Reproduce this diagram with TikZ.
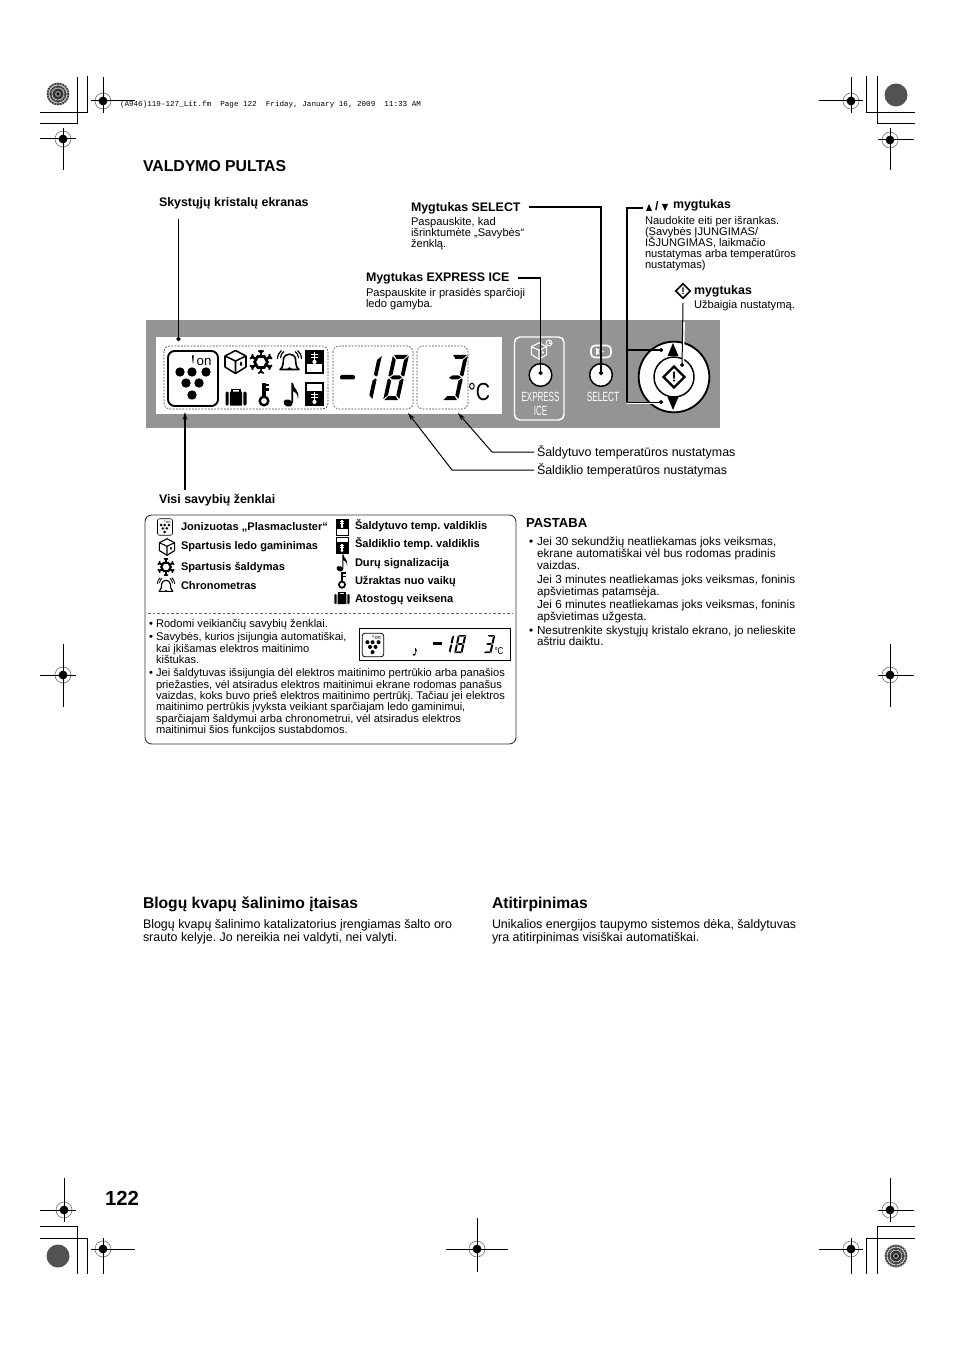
\documentclass[tikz,border=0pt]{standalone}
\usepackage{fontspec}
\setmainfont{Liberation Sans}
\newfontfamily\hdrfont{Liberation Mono}
\usetikzlibrary{arrows.meta,calc}
\newcounter{lbl}
\tikzset{
 txt/.style={anchor=base west,inner sep=0pt,outer sep=0pt,text=black,font=\frenchspacing\fontsize{8.35}{9}\selectfont},
 bd/.style={font=\frenchspacing\fontsize{9.3}{10}\bfseries\selectfont},
 tb/.style={font=\frenchspacing\fontsize{8.3}{9}\bfseries\selectfont},
 big/.style={font=\frenchspacing\fontsize{9.33}{11}\selectfont},
 nt/.style={font=\frenchspacing\fontsize{8.8}{10}\selectfont},
 wh/.style={anchor=base,text=white,font=\fontsize{10}{11}\selectfont},
 leader/.style={draw=black,line width=1pt,-{Circle[length=3pt]}},
 thinlead/.style={draw=black,line width=.75pt},
 point/.style={draw=black,line width=.75pt,-{Stealth[length=6pt,width=3.5pt]}},
 dashbox/.style={draw=black!75,line width=.5pt,dash pattern=on 1.3pt off 1.1pt,rounded corners=4pt},
}
\newcommand\T[4][]{\stepcounter{lbl}\node[txt,#1] (l\arabic{lbl}) at (#2,#3) {#4};}
% seven-segment pieces, local box 20 x 45
\newcommand\segA{\fill (1.5,0)--(18.5,0)--(14.5,4)--(5.5,4)--cycle;}
\newcommand\segD{\fill (1.5,45)--(18.5,45)--(14.5,41)--(5.5,41)--cycle;}
\newcommand\segG{\fill (2.5,22.5)--(6,20.5)--(14,20.5)--(17.5,22.5)--(14,24.5)--(6,24.5)--cycle;}
\newcommand\segF{\fill (0,1)--(4.8,5)--(4.8,19.5)--(1.5,21.5)--(0,20.5)--cycle;}
\newcommand\segB{\fill (20,1)--(15.2,5)--(15.2,19.5)--(18.5,21.5)--(20,20.5)--cycle;}
\newcommand\segE{\fill (0,24.5)--(1.5,23.5)--(4.8,25.5)--(4.8,40)--(0,44)--cycle;}
\newcommand\segC{\fill (20,24.5)--(18.5,23.5)--(15.2,25.5)--(15.2,40)--(20,44)--cycle;}
\newcommand\digEight[4]{\begin{scope}[shift={(#1,#2)},xslant=.22,xscale=#3,yscale=#4]\segA\segB\segC\segD\segE\segF\segG\end{scope}}
\newcommand\digOne[4]{\begin{scope}[shift={(#1,#2)},xslant=.22,xscale=#3,yscale=#4]\segB\segC\end{scope}}
\newcommand\digThree[4]{\begin{scope}[shift={(#1,#2)},xslant=.22,xscale=#3,yscale=#4]\segA\segB\segC\segD\segG\end{scope}}
% registration mark
\newcommand\reg[6]{%
 \draw[black!55,line width=.45pt] (#1,#2) circle (8);
 \fill[black] (#1,#2) circle (4.4);
 \draw[black,line width=.75pt] (#3,#2)--(#4,#2) (#1,#5)--(#1,#6);}
\newcommand\discR[2]{%
 \fill[black!45] (#1,#2) circle (11.5);
 \foreach \a in {0,15,...,345}{\draw[black!80,line width=.9pt] ($(#1,#2)+(\a:3)$)--($(#1,#2)+(\a:11.2)$);}
 \foreach \r in {6,9}{\draw[black!20,line width=.6pt] (#1,#2) circle (\r);}
 \fill[black] (#1,#2) circle (1.6);}
\newcommand\discS[2]{\fill[black!68] (#1,#2) circle (11.5);}
% icons
\newcommand\plasma[3]{\begin{scope}[shift={(#1,#2)},scale=#3]
 \draw[black,line width=#3*1.4pt,rounded corners=5*#3,fill=white] (-25,-27.5) rectangle (25,27.5);
 \foreach \p/\q in {-13/-6.5,-1/-6.5,13/-6.5,-7/4.5,6/4.5,-1/16.5}{\fill[black] (\p,\q) circle (4.7);}
 \fill[black] (-1,-23)--(.8,-23)--(.3,-15)--(-.3,-15)--cycle;
 \stepcounter{lbl}\node[inner sep=0pt,scale=#3,font=\fontsize{10}{10}\selectfont] (l\arabic{lbl}) at (11,-16.5) {on};
 \end{scope}}
\newcommand\cube[4][black]{\begin{scope}[shift={(#2,#3)},scale=#4,draw=#1,line width=#4*1.15pt,line join=round]
 \draw (-10.5,-6)--(0,-11.5)--(10.5,-6)--(10.5,5)--(0,11.5)--(-10.5,5)--cycle;
 \draw (-10.5,-6)--(0,-1)--(10.5,-6) (0,-1)--(0,11.5);
 \fill[#1] (5.5,-1)--(6.8,2)--(5.5,4.5)--(4.2,2)--cycle;
 \end{scope}}
\newcommand\snow[3]{\begin{scope}[shift={(#1,#2)},scale=#3]
 \foreach \a in {30,90,150,210,270,330}{
  \draw[black,line width=#3*2pt] (\a:5)--(\a:11.5);
  \draw[black,line width=#3*1.3pt] (\a:9.5)--++(\a+55:3.2) (\a:9.5)--++(\a-55:3.2);}
 \draw[black,line width=#3*2pt,fill=white] (0:6.4)--(60:6.4)--(120:6.4)--(180:6.4)--(240:6.4)--(300:6.4)--cycle;
 \end{scope}}
\newcommand\bell[3]{\begin{scope}[shift={(#1,#2)},scale=#3]
 \draw[black,line width=#3*1.2pt,fill=white,line join=round] (-9.5,7.5) .. controls (-6,5) and (-6.5,1) .. (-6,-3) .. controls (-5,-9.5) and (5,-9.5) .. (6,-3) .. controls (6.5,1) and (6,5) .. (9.5,7.5) --cycle;
 \fill[black] (-2.5,8) arc (180:0:2.5 and -2.7) --cycle;
 \draw[black,line width=#3*.9pt] (-9,-4) .. controls (-9,-7) and (-7.5,-9) .. (-5.5,-10.5) (-12,-3) .. controls (-12,-7) and (-10,-10) .. (-8,-11.5)
  (9,-4) .. controls (9,-7) and (7.5,-9) .. (5.5,-10.5) (12,-3) .. controls (12,-7) and (10,-10) .. (8,-11.5);
 \end{scope}}
\newcommand\thermo[3]{\fill[white] (#1-.9,#2-5.5) rectangle (#1+.9,#2+4);\fill[white] (#1,#2+4.4) circle (2.1);
 \draw[white,line width=.55pt] (#1-3.2,#2-3)--(#1+3.2,#2-3) (#1-3.2,#2)--(#1+3.2,#2);}
\newcommand\thermT[3]{\begin{scope}[shift={(#1,#2)},scale=#3]
 \fill[black] (-8.5,-11) rectangle (8.5,2.5);
 \draw[black,line width=#3*.8pt] (-8.5,-11) rectangle (8.5,11);
 \thermo{0}{-4.5}{}
 \end{scope}}
\newcommand\thermB[3]{\begin{scope}[shift={(#1,#2)},scale=#3]
 \fill[black] (-8.5,-3.5) rectangle (8.5,11);
 \draw[black,line width=#3*.8pt] (-8.5,-11) rectangle (8.5,11);
 \thermo{0}{3.5}{}
 \end{scope}}
\newcommand\case[3]{\begin{scope}[shift={(#1,#2)},scale=#3]
 \draw[black,line width=#3*1.3pt] (-4.2,-5) -- (-4.2,-7.5) -- (4.2,-7.5) -- (4.2,-5);
 \fill[black,rounded corners=#3*1pt] (-10.5,-5.5) rectangle (-7.3,8.5);
 \fill[black,rounded corners=#3*.5pt] (-6.2,-5.5) rectangle (6.2,8.5);
 \fill[black,rounded corners=#3*1pt] (7.3,-5.5) rectangle (10.5,8.5);
 \end{scope}}
\newcommand\keyic[3]{\begin{scope}[shift={(#1,#2)},scale=#3]
 \draw[black,line width=#3*1.8pt] (0,6.5) circle (4.3);
 \draw[black,line width=#3*2.3pt] (0,3)--(0,-11);
 \draw[black,line width=#3*1.8pt] (0,-9.5)--(5,-9.5) (0,-5)--(5,-5);
 \end{scope}}
\newcommand\noteic[3]{\begin{scope}[shift={(#1,#2)},scale=#3]
 \fill[black,rotate around={-20:(-3,8)}] (-3,8) ellipse (4.6 and 3.6);
 \fill[black] (.4,8)--(.4,-12)--(2,-12) .. controls (2.2,-6) and (9,-5) .. (7,4) .. controls (6.5,-2) and (4,-3) .. (2,-4)--(2,8)--cycle;
 \end{scope}}
\newcommand\enter[3]{\begin{scope}[shift={(#1,#2)},scale=#3]
 \draw[black,line width=#3*1.7pt,fill=white,line join=miter] (0,-10)--(10,0)--(0,10)--(-10,0)--cycle;
 \fill[black] (-1,-5)--(1,-5)--(.7,1.5)--(-.7,1.5)--cycle;
 \fill[black] (0,3.4) circle (1.1);
 \end{scope}}
\begin{document}
\begin{tikzpicture}[x=.75pt,y=-.75pt]
\useasboundingbox (0,0) rectangle (954,1351);
\fill[white] (0,0) rectangle (954,1351);
% crop lines
\draw[black,line width=.75pt] (77,77)--(77,124)--(40,124) (87,76)--(87,113)--(40,113)
 (866,76)--(866,113)--(915,113) (877,76)--(877,124)--(915,124)
 (40,1226)--(77,1226)--(77,1274) (40,1238)--(87,1238)--(87,1274)
 (915,1226)--(877,1226)--(877,1274) (915,1238)--(866,1238)--(866,1274);
\discR{58}{94}\discS{896}{95}\discS{58}{1256}\discR{896}{1256}
\reg{103}{101}{91}{135}{77}{113}
\reg{63}{139}{40}{76}{128}{170}
\reg{851}{101}{819}{863}{77}{113}
\reg{890}{140}{878}{914}{128}{170}
\reg{63}{675}{40}{76}{644}{707}
\reg{890}{675}{878}{914}{644}{707}
\reg{64}{1210}{40}{76}{1178}{1222}
\reg{103}{1249}{91}{135}{1238}{1274}
\reg{477}{1249}{446}{508}{1218}{1272}
\reg{851}{1249}{819}{863}{1238}{1274}
\reg{890}{1210}{878}{914}{1178}{1222}
\T[font={\hdrfont\fontsize{5.7}{7}\selectfont}]{120}{107}{(A946)119-127\_Lit.fm\ \ Page 122\ \ Friday, January 16, 2009\ \ 11:33 AM}
\T[font=\fontsize{11.85}{14}\bfseries\selectfont]{143}{171.5}{VALDYMO PULTAS}
% panel
\fill[black!42] (146,320) rectangle (720,428);
\fill[white] (156,337) rectangle (502,414);
\draw[dashbox] (164,346) rectangle (328,409);
\draw[dashbox] (333,346) rectangle (413,409);
\draw[dashbox] (417,346) rectangle (468,409);
\plasma{193}{378.5}{1}
\cube{235.5}{362}{1}
\snow{261}{362}{1}
\bell{289.5}{362}{1}
\thermT{314.5}{362}{1}
\case{236}{397}{1}
\keyic{264}{394.5}{1}
\noteic{291}{395}{1}
\thermB{314.5}{394}{1}
\fill[rounded corners=1pt] (340,375)--(355,375)--(355,379.5)--(340,379.5)--cycle;
\digOne{366}{355}{.8}{1}
\digEight{393}{355}{.8}{1}
\digThree{452}{355}{.8}{1}
\T[font=\fontsize{18.5}{20}\selectfont]{468}{400}{\scalebox{.8}[1]{°C}}
% express ice
\draw[white,line width=1.1pt,rounded corners=4pt] (514.5,337) rectangle (564,420);
\cube[white]{539}{351}{.72}
\draw[white,line width=.7pt] (549,343) circle (3);
\draw[white,line width=.5pt] (549,341.5)--(549,343)--(550.5,343);
\node[draw=black,line width=1.1pt,fill=white,circle,minimum size=17pt,inner sep=0pt] (expbtn) at (540.5,375) {};
\stepcounter{lbl}\node[wh] (l\arabic{lbl}) at (540.5,402) {\scalebox{.6}[1]{EXPRESS}};
\stepcounter{lbl}\node[wh] (l\arabic{lbl}) at (540.5,415) {\scalebox{.6}[1]{ICE}};
% select
\draw[white,line width=1.2pt,rounded corners=3pt] (591,345.5) rectangle (611,357.5);
\fill[white] (596,351.5)++(0,-3.5) -- ++(8,3.5) -- ++(-8,3.5) --cycle;
\fill[black!42] (598.5,349.5)--(602,351.5)--(598.5,353.5)--cycle;
\node[draw=black,line width=1.1pt,fill=white,circle,minimum size=17pt,inner sep=0pt] (selbtn) at (601,375) {};
\stepcounter{lbl}\node[wh] (l\arabic{lbl}) at (603,402) {\scalebox{.62}[1]{SELECT}};
% dial
\node[draw=black,line width=1.4pt,fill=white,circle,minimum size=53pt,inner sep=0pt] (dial) at (674,377) {};
\node[draw=black,line width=1.1pt,fill=white,circle,minimum size=30pt,inner sep=0pt] (dialin) at (674,377) {};
\enter{674}{377}{1.05}
\fill (667.5,356)--(678.5,356)--(673,343)--cycle;
\fill (667.5,397)--(678.5,397)--(673,410)--cycle;
% leaders
\coordinate (lcdTop) at (178.5,219); \coordinate (lcdEnd) at (178.5,341);
\draw[leader] (lcdTop)--(lcdEnd);
\coordinate (visiA) at (185,490); \coordinate (visiB) at (185,412);
\draw[draw=black,line width=1pt,-{Stealth[length=6pt,width=3.5pt]}] (visiA)--(visiB);
\coordinate (selA) at (529,207);
\draw[leader] (selA)-|(selbtn.center);
\coordinate (expA) at (518,278);
\draw[draw=black,line width=.9pt,-{Circle[length=3pt]}] (expA)-|(expbtn.center);
\coordinate (arrA) at (643,208); \coordinate (arrB) at (627,208); \coordinate (arrC) at (627,350); \coordinate (arrD) at (627,402);
\coordinate (upEnd) at (663,350); \coordinate (dnEnd) at (663,402);
\draw[white,line width=.8pt] (627.4,403.2)--(661,403.2);
\draw[draw=black,line width=.9pt] (arrA)--(arrB)--(arrD);
\draw[leader,line width=.9pt] (arrC)--(upEnd);
\draw[leader,line width=.75pt] (arrD)--(dnEnd);
\coordinate (entA) at (683,303); \coordinate (entB) at (682,367);
\draw[white,line width=1.4pt] (684,322)--(683,365);
\draw[thinlead,-{Circle[length=3pt]}] (entA)--(entB);
\coordinate (frA) at (534,452); \coordinate (frB) at (492,452); \coordinate (frC) at (458,413);
\draw[point] (frA)--(frB)--(frC);
\coordinate (fzA) at (534,470); \coordinate (fzB) at (452,470); \coordinate (fzC) at (408,413);
\draw[point] (fzA)--(fzB)--(fzC);
% captions
\T[bd]{159}{206.5}{Skystųjų kristalų ekranas}
\T[bd]{411}{211.5}{Mygtukas SELECT}
\T{411}{226}{Paspauskite, kad}
\T{411}{237}{išrinktumėte „Savybės“}
\T{411}{248}{ženklą.}
\T[bd]{366}{282}{Mygtukas EXPRESS ICE}
\T{366}{297}{Paspauskite ir prasidės sparčioji}
\T{366}{308}{ledo gamyba.}
\fill (646,211)--(652,211)--(649,204)--cycle;
\fill (662,204)--(668,204)--(665,211)--cycle;
\T[bd]{655}{211}{/}
\T[bd]{673}{208.5}{mygtukas}
\T{645}{224.5}{Naudokite eiti per išrankas.}
\T{645}{236}{(Savybės ĮJUNGIMAS/}
\T{645}{247}{IŠJUNGIMAS, laikmačio}
\T{645}{258}{nustatymas arba temperatūros}
\T{645}{269}{nustatymas)}
\enter{683}{291}{.72}
\T[bd]{694}{294.5}{mygtukas}
\T{694}{309}{Užbaigia nustatymą.}
\T[big]{537}{456}{Šaldytuvo temperatūros nustatymas}
\T[big]{537}{474}{Šaldiklio temperatūros nustatymas}
\T[bd]{159}{503}{Visi savybių ženklai}
% table box
\draw[black!80,line width=.7pt,rounded corners=5pt] (145,515) rectangle (516,744);
\draw[black!60,line width=.6pt,dash pattern=on 2pt off 1.5pt] (148,613)--(513,613);
\plasma{165}{527}{.3}
\cube{167}{547}{.72}
\snow{166}{567}{.75}
\bell{166}{586}{.72}
\thermT{342}{527}{.72}
\thermB{342}{545}{.72}
\noteic{342}{563}{.72}
\keyic{342}{580}{.72}
\case{342}{598}{.72}
\T[tb]{181}{530}{Jonizuotas „Plasmacluster“}
\T[tb]{181}{549}{Spartusis ledo gaminimas}
\T[tb]{181}{570}{Spartusis šaldymas}
\T[tb]{181}{589}{Chronometras}
\T[tb]{355}{529}{Šaldytuvo temp. valdiklis}
\T[tb]{355}{547}{Šaldiklio temp. valdiklis}
\T[tb]{355}{566}{Durų signalizacija}
\T[tb]{355}{584}{Užraktas nuo vaikų}
\T[tb]{355}{602}{Atostogų veiksena}
\T{149}{627}{•}
\T{156}{627}{Rodomi veikiančių savybių ženklai.}
\T{149}{640}{•}
\T{156}{640}{Savybės, kurios įsijungia automatiškai,}
\T{156}{652}{kai įkišamas elektros maitinimo}
\T{156}{663}{kištukas.}
\T{149}{676}{•}
\T{156}{676}{Jei šaldytuvas išsijungia dėl elektros maitinimo pertrūkio arba panašios}
\T{156}{688}{priežasties, vėl atsiradus elektros maitinimui ekrane rodomas panašus}
\T{156}{699}{vaizdas, koks buvo prieš elektros maitinimo pertrūkį. Tačiau jei elektros}
\T{156}{710}{maitinimo pertrūkis įvyksta veikiant sparčiajam ledo gaminimui,}
\T{156}{722}{sparčiajam šaldymui arba chronometrui, vėl atsiradus elektros}
\T{156}{733}{maitinimui šios funkcijos sustabdomos.}
% small lcd
\draw[black,line width=.6pt] (359.5,628) rectangle (510,660.5);
\plasma{373}{645}{.43}
\noteic{415}{652}{.33}
\fill (433,642)--(442,642)--(442,644.5)--(433,644.5)--cycle;
\digOne{446}{635}{.42}{.4}
\digEight{458}{635}{.42}{.4}
\digThree{487}{635}{.42}{.4}
\T[font=\fontsize{7.5}{8}\selectfont]{494.5}{654}{\scalebox{.8}[1]{°C}}
% note
\T[font=\fontsize{9.8}{11}\bfseries\selectfont]{526}{527.5}{PASTABA}
\T[nt]{529}{545}{•}
\T[nt]{537}{545}{Jei 30 sekundžių neatliekamas joks veiksmas,}
\T[nt]{537}{557}{ekrane automatiškai vėl bus rodomas pradinis}
\T[nt]{537}{569}{vaizdas.}
\T[nt]{537}{583}{Jei 3 minutes neatliekamas joks veiksmas, foninis}
\T[nt]{537}{595}{apšvietimas patamsėja.}
\T[nt]{537}{608}{Jei 6 minutes neatliekamas joks veiksmas, foninis}
\T[nt]{537}{620}{apšvietimas užgesta.}
\T[nt]{529}{634}{•}
\T[nt]{537}{634}{Nesutrenkite skystųjų kristalo ekrano, jo nelieskite}
\T[nt]{537}{645}{aštriu daiktu.}
% lower section
\T[font=\fontsize{11.75}{13}\bfseries\selectfont]{143}{908}{Blogų kvapų šalinimo įtaisas}
\T[font=\fontsize{11.75}{13}\bfseries\selectfont]{492}{908}{Atitirpinimas}
\T[big]{143}{928}{Blogų kvapų šalinimo katalizatorius įrengiamas šalto oro}
\T[big]{143}{941}{srauto kelyje. Jo nereikia nei valdyti, nei valyti.}
\T[big]{492}{928}{Unikalios energijos taupymo sistemos dėka, šaldytuvas}
\T[big]{492}{941}{yra atitirpinimas visiškai automatiškai.}
\T[font=\fontsize{15.3}{18}\bfseries\selectfont]{105}{1205}{122}
\end{tikzpicture}
\end{document}
